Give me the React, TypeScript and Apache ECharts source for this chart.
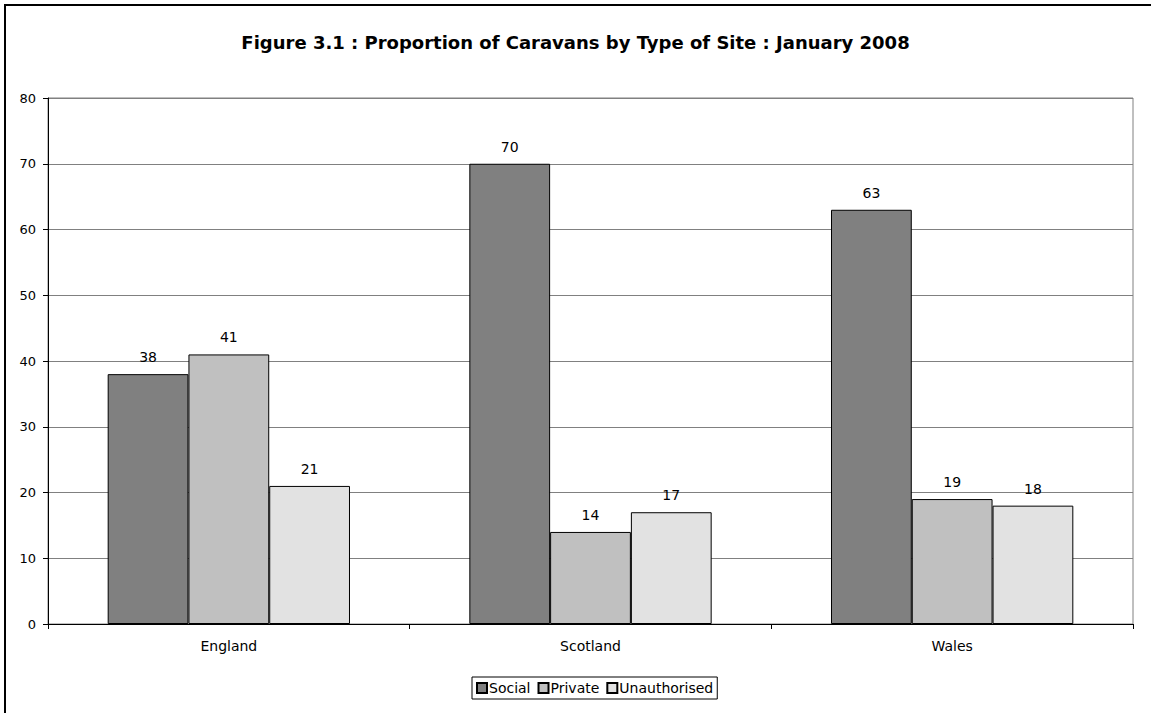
import React, { useEffect, useRef } from "react";
import * as echarts from "echarts";

const categories = ["England", "Scotland", "Wales"];
const social = [38, 70, 63];
const privateSites = [41, 14, 19];
const unauthorised = [21, 17, 18];
const seriesNames = ["Social", "Private", "Unauthorised"];
const seriesColors = ["#808080", "#c0c0c0", "#e2e2e2"];
const titleText = "Figure 3.1 : Proportion of Caravans by Type of Site : January 2008";

const FONT = "'DejaVu Sans', 'Liberation Sans', Arial, sans-serif";

export default function App() {
  const ref = useRef<HTMLDivElement>(null);
  useEffect(() => {
    document.body.style.margin = "0";
    const chart = echarts.init(ref.current!, null, { renderer: "svg" });
    const data = [social, privateSites, unauthorised];
    chart.setOption({
      animation: false,
      backgroundColor: "#ffffff",
      textStyle: { fontFamily: FONT },
      title: {
        text: titleText,
        left: "center",
        top: 28,
        textStyle: { fontFamily: FONT, fontSize: 18, fontWeight: "bold", color: "#000" },
      },
      graphic: [
        {
          type: "polyline",
          shape: { points: [[5, 713], [5, 5], [1151, 5]] },
          style: { stroke: "#000", lineWidth: 2, fill: "none" },
          silent: true,
        },
      ],
      legend: {
        data: seriesNames,
        top: 677,
        left: 472,
        itemWidth: 10,
        itemHeight: 10,
        itemGap: 7,
        padding: [4, 4, 4, 4],
        borderColor: "#000",
        borderWidth: 1,
        textStyle: { fontFamily: FONT, fontSize: 14, color: "#000", padding: [0, 0, 0, -3] },
        icon: "rect",
      },
      grid: {
        left: 48,
        right: 18,
        top: 98,
        bottom: 89,
        show: true,
        borderColor: "#808080",
        borderWidth: 1,
        containLabel: false,
      },
      xAxis: {
        type: "category",
        data: categories,
        axisLine: { lineStyle: { color: "#000", width: 1 } },
        axisTick: { show: true, alignWithLabel: false, length: 5, lineStyle: { color: "#000" } },
        axisLabel: { fontFamily: FONT, fontSize: 14, color: "#000", margin: 15 },
      },
      yAxis: {
        type: "value",
        min: 0,
        max: 80,
        interval: 10,
        axisLine: { show: true, lineStyle: { color: "#000", width: 1 } },
        axisTick: { show: true, length: 5, lineStyle: { color: "#000" } },
        axisLabel: { fontFamily: FONT, fontSize: 13, color: "#000", margin: 12 },
        splitLine: { show: true, lineStyle: { color: "#808080", width: 1 } },
      },
      series: seriesNames.map((name, i) => ({
        name,
        type: "bar",
        data: data[i],
        barGap: "0%",
        barCategoryGap: "33%",
        itemStyle: { color: seriesColors[i], borderColor: "#000", borderWidth: 1 },
        label: {
          show: true,
          position: "top",
          distance: 10,
          fontFamily: FONT,
          fontSize: 14,
          color: "#000",
        },
      })),
    });
    return () => chart.dispose();
  }, []);
  return <div ref={ref} style={{ width: 1151, height: 713 }} />;
}
